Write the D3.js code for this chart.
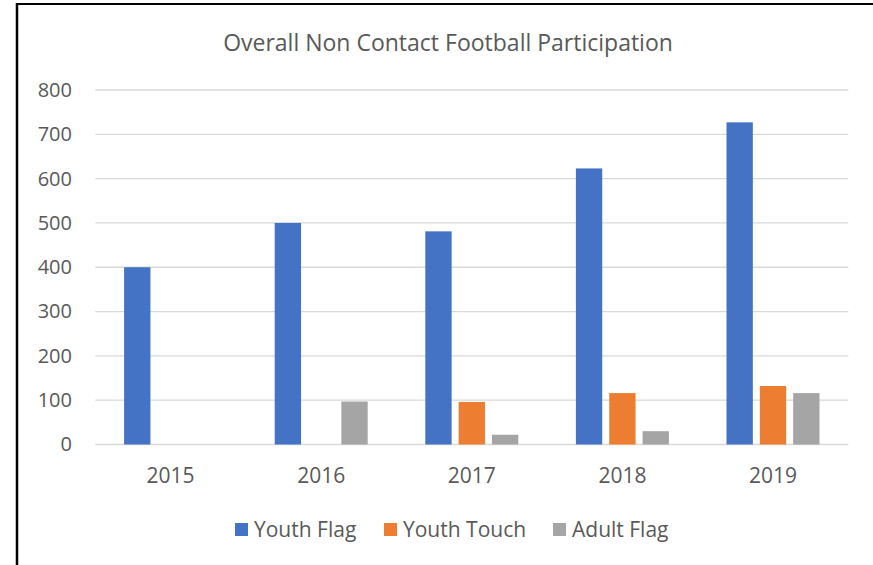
<html>
<head>
  <meta charset="utf-8">
  <title>Overall Non Contact Football Participation</title>
  <style>
    html, body { margin: 0; padding: 0; background: #fff; }
    svg { display: block; }
    text { font-family: "Open Sans", sans-serif; fill: #595959; }
  </style>
  <script src="https://d3js.org/d3.v7.js" charset="utf-8"></script>
</head>
<body>
<script>
  var width = 873, height = 565;

  // data
  var years = ["2015", "2016", "2017", "2018", "2019"];
  var series = ["Youth Flag", "Youth Touch", "Adult Flag"];
  var youthFlag = [400, 500, 481, 623, 727];
  var youthTouch = [0, 0, 96, 116, 132];
  var adultFlag = [0, 97, 22, 30, 116];
  var yTicks = [0, 100, 200, 300, 400, 500, 600, 700, 800];
  var colors = ["#4472C4", "#ED7D31", "#A5A5A5"];

  var values = [youthFlag, youthTouch, adultFlag];

  var svg = d3.select("body").append("svg")
    .attr("width", width)
    .attr("height", height);

  // frame lines (top and left)
  svg.append("line").attr("x1", 17).attr("x2", width).attr("y1", 4).attr("y2", 4)
    .attr("stroke", "#000").attr("stroke-width", 2);
  svg.append("line").attr("x1", 17).attr("x2", 17).attr("y1", 3).attr("y2", height)
    .attr("stroke", "#000").attr("stroke-width", 2.5);

  svg.append("text")
    .attr("x", 448).attr("y", 51)
    .attr("text-anchor", "middle")
    .style("font-size", "23px")
    .text("Overall Non Contact Football Participation");

  var x0 = d3.scaleBand().domain(years).range([95.3, 848.3]);
  var x1 = d3.scaleBand().domain(series).range([-50, 50])
    .paddingInner(0.21).paddingOuter(0.105);
  var y = d3.scaleLinear().domain([0, 800]).range([444.5, 90]);

  // gridlines
  svg.append("g").selectAll("line")
    .data(yTicks).enter().append("line")
    .attr("x1", 95.3).attr("x2", 848.3)
    .attr("y1", d => y(d)).attr("y2", d => y(d))
    .attr("stroke", "#d9d9d9").attr("stroke-width", 1.3);

  // y axis labels
  var yAxis = d3.axisLeft(y).tickValues(yTicks).tickSize(0).tickPadding(0);
  var gy = svg.append("g").attr("transform", "translate(72,0)").call(yAxis);
  gy.select(".domain").remove();
  gy.selectAll("text").style("font-size", "20px").style("font-family", "Open Sans").attr("fill", "#595959");

  // x axis labels
  var xAxis = d3.axisBottom(x0).tickSize(0).tickPadding(0);
  var gx = svg.append("g").attr("transform", "translate(0,468)").call(xAxis);
  gx.select(".domain").remove();
  gx.selectAll("text").style("font-size", "21px").style("font-family", "Open Sans").attr("fill", "#595959");

  // bars
  var groups = svg.append("g").selectAll("g")
    .data(years).enter().append("g")
    .attr("transform", d => "translate(" + (x0(d) + x0.bandwidth() / 2) + ",0)");

  groups.selectAll("rect")
    .data((d, i) => series.map((s, j) => ({ s: s, v: values[j][i], c: colors[j] })))
    .enter().append("rect")
    .filter(d => d.v > 0)
    .attr("x", d => x1(d.s))
    .attr("width", x1.bandwidth())
    .attr("y", d => y(d.v))
    .attr("height", d => y(0) - y(d.v))
    .attr("fill", d => d.c);

  // legend
  var legendX = [235, 384, 553];
  var legend = svg.append("g").selectAll("g")
    .data(series).enter().append("g")
    .attr("transform", (d, i) => "translate(" + legendX[i] + ",523)");
  legend.append("rect").attr("width", 13).attr("height", 13)
    .attr("fill", (d, i) => colors[i]);
  legend.append("text").attr("x", 19).attr("y", 14)
    .style("font-size", "21px")
    .text(d => d);
</script>
</body>
</html>
